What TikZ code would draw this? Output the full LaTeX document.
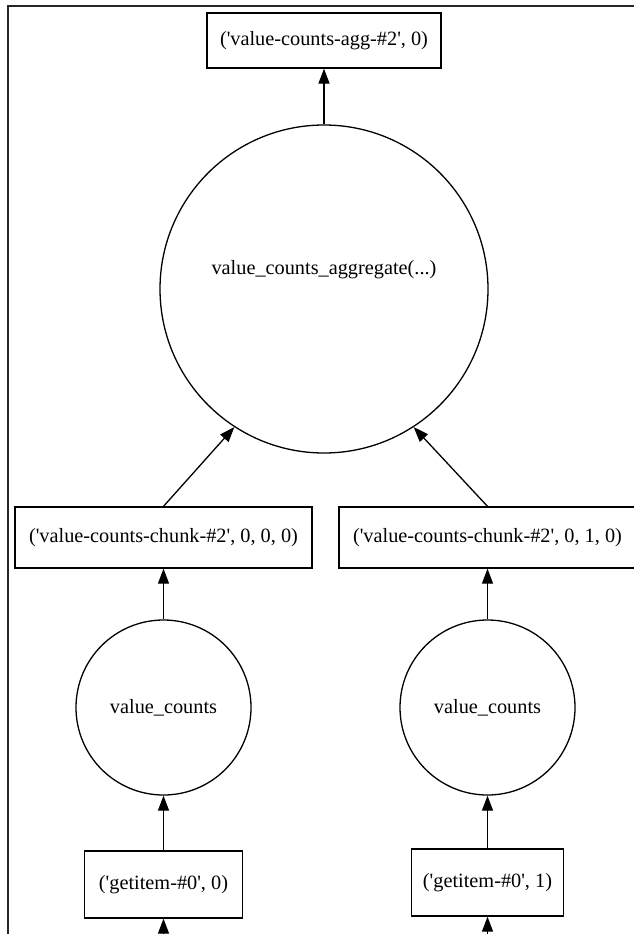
\documentclass[tikz,border=0pt]{standalone}
\usepackage{fontspec}
\setmainfont{Liberation Serif}
\usetikzlibrary{arrows.meta}

\newcommand{\sq}{\textquotesingle}

\tikzset{
  datum/.style={draw, rectangle, line width=1.3pt, inner sep=0pt},
  func/.style={draw, circle, line width=1.3pt, inner sep=0pt},
  dep/.style={line width=1.3pt, -{Triangle[length=15pt,width=11pt]}},
  frame/.style={draw=black!85, line width=2pt}
}

\begin{document}
\begin{tikzpicture}[x=1pt, y=-1pt, font=\fontsize{20.3}{24}\selectfont]
\useasboundingbox (0,0) rectangle (634,934);

% frame of the figure
\draw[frame] (8,934) -- (8,6.5) -- (634,6.5);

% output key
\node[datum, minimum width=234pt, minimum height=55pt] (agg) at (324,40.5)
  {(\sq value-counts-agg-\#2\sq, 0)};

% aggregate task
\node[func, minimum size=328pt] (aggfn) at (324,289) {};
\node (aggtxt) at (324,270) {value\_counts\_aggregate(...)};

% chunks
\node[datum, minimum width=297pt, minimum height=61pt] (chunk0) at (163.5,537.5)
  {(\sq value-counts-chunk-\#2\sq, 0, 0, 0)};
\node[datum, minimum width=297pt, minimum height=61pt] (chunk1) at (487.5,537.5)
  {(\sq value-counts-chunk-\#2\sq, 0, 1, 0)};

% per-chunk tasks
\node[func, minimum size=175pt] (vc0) at (163.5,707.5) {value\_counts};
\node[func, minimum size=175pt] (vc1) at (487.5,707.5) {value\_counts};

% inputs
\node[datum, minimum width=158pt, minimum height=67pt] (get0) at (163.5,884.5)
  {(\sq getitem-\#0\sq, 0)};
\node[datum, minimum width=152pt, minimum height=67pt] (get1) at (487.5,882.5)
  {(\sq getitem-\#0\sq, 1)};
\coordinate (in0) at (163.5,945);
\coordinate (in1) at (487.5,945);

% dependencies
\draw[dep] (aggfn) -- (agg);
\draw[dep] (chunk0.north) -- (aggfn.237);
\draw[dep] (chunk1.north) -- (aggfn.303);
\draw[dep] (vc0) -- (chunk0);
\draw[dep] (vc1) -- (chunk1);
\draw[dep] (get0) -- (vc0);
\draw[dep] (get1) -- (vc1);
\draw[dep] (in0) -- (get0);
\draw[dep] (in1) -- (get1);
\end{tikzpicture}
\end{document}
